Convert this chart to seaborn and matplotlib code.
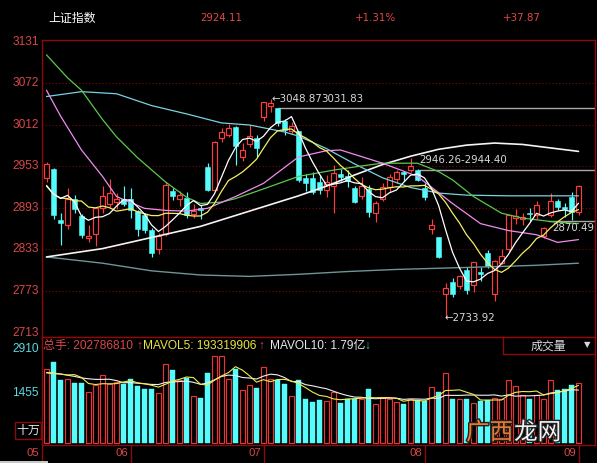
import matplotlib
matplotlib.use("Agg")
import matplotlib.pyplot as plt
import matplotlib.patheffects as pe
from matplotlib.patches import Rectangle
from matplotlib.lines import Line2D
import numpy as np
import seaborn as sns

# ---------------- data ----------------
index_name = "上证指数"
last_close_text = "2924.11"
pct_text = "+1.31%"
chg_text = "+37.87"

opens = [2935, 2948, 2875, 2868, 2906, 2881, 2850, 2855, 2893, 2898,
         2901, 2906, 2906, 2888, 2882, 2861, 2834, 2855, 2917, 2906,
         2907, 2884, 2893, 2951, 2919, 2993, 2998, 3009, 2966, 2985,
         2994, 3024, 3040, 3036, 3018, 3004, 3003, 2935, 2936, 2930,
         2918, 2924, 2941, 2938, 2921, 2910, 2920, 2886, 2905, 2923,
         2934, 2944, 2947, 2947, 2922, 2862, 2851, 2768, 2786, 2780,
         2803, 2782, 2800, 2827, 2768, 2814, 2834, 2878, 2877, 2886,
         2882, 2852, 2883, 2902, 2894, 2909, 2887]
highs = [2959, 2950, 2885, 2922, 2911, 2884, 2868, 2894, 2924, 2934,
         2914, 2924, 2922, 2889, 2886, 2864, 2857, 2930, 2922, 2917,
         2916, 2898, 2897, 2957, 2989, 3008, 3013, 3010, 2986, 3012,
         2997, 3045, 3048.9, 3037, 3021, 3017, 3004, 2941, 2945, 2940,
         2940, 2955, 2948, 2947, 2924, 2937, 2925, 2902, 2928, 2941,
         2947, 2946, 2964, 2948, 2928, 2877, 2851, 2785, 2792, 2796,
         2807, 2815, 2807, 2832, 2818, 2833, 2883, 2891, 2886, 2893,
         2902, 2865, 2914, 2905, 2900, 2915, 2926]
lows = [2930, 2876, 2839, 2862, 2886, 2849, 2843, 2838, 2886, 2894,
        2891, 2896, 2878, 2852, 2857, 2822, 2826, 2852, 2904, 2896,
        2878, 2878, 2876, 2917, 2917, 2988, 2995, 2955, 2960, 2980,
        2966, 3018, 3031, 3010, 2998, 2999, 2930, 2917, 2912, 2912,
        2908, 2886, 2931, 2923, 2899, 2905, 2880, 2873, 2902, 2916,
        2928, 2932, 2944, 2932, 2904, 2855, 2820, 2733.9, 2764, 2776,
        2768, 2772, 2787, 2806, 2759, 2812, 2830, 2870, 2868, 2874,
        2876, 2850, 2880, 2889, 2880, 2875, 2883]
closes = [2955.7, 2882.3, 2870.6, 2906.0, 2891.7, 2853.0, 2852.5, 2892.4, 2909.9, 2914.7,
          2905.8, 2898.7, 2890.1, 2862.3, 2861.4, 2827.8, 2852.1, 2925.7, 2909.4, 2910.7,
          2882.0, 2887.6, 2890.2, 2917.8, 2987.1, 3002.0, 3008.2, 2982.1, 2976.3, 2996.8,
          2978.9, 3044.9, 3043.9, 3015.3, 3005.3, 3011.1, 2933.4, 2928.2, 2915.3, 2917.8,
          2930.6, 2942.2, 2937.6, 2931.7, 2901.6, 2924.2, 2887.0, 2899.9, 2923.3, 2937.4,
          2944.5, 2941.0, 2952.3, 2932.5, 2908.8, 2867.8, 2821.5, 2777.6, 2768.7, 2794.6,
          2774.8, 2815.0, 2797.3, 2808.9, 2815.8, 2823.8, 2883.1, 2880.3, 2880.0, 2883.4,
          2897.4, 2863.6, 2902.2, 2893.8, 2890.9, 2886.2, 2924.1]
# volume in units of 十万 (100k shares)
volumes = [2513, 2735, 2119, 2153, 2028, 2028, 1726, 1951, 2287, 2008,
           2062, 2008, 2176, 1927, 1840, 1816, 1692, 2657, 2455, 2142,
           2210, 1581, 1524, 2365, 2926, 2926, 2153, 2513, 1783, 1974,
           1861, 2567, 2176, 2142, 2008, 1581, 2142, 1490, 1390, 1446,
           1413, 1726, 1356, 1502, 1502, 1502, 1840, 1312, 1536, 1502,
           1390, 1334, 1502, 1469, 1424, 1894, 1726, 2365, 1502, 1502,
           1502, 1356, 1424, 1469, 1536, 1502, 2142, 1917, 1614, 1502,
           1614, 1502, 2119, 1783, 1840, 1974, 2028]

ma5 = [2924.2, 2912.8, 2906.2, 2910.7, 2901.3, 2880.7, 2874.8, 2879.1, 2879.9, 2884.5,
       2895.1, 2904.3, 2903.8, 2894.3, 2883.7, 2868.1, 2858.7, 2865.9, 2875.3, 2885.1,
       2896.0, 2903.1, 2896.0, 2897.7, 2912.9, 2936.9, 2961.1, 2979.4, 2991.1, 2993.1,
       2988.5, 2995.8, 3008.2, 3016.0, 3017.7, 3024.1, 3001.8, 2978.7, 2958.7, 2941.2,
       2925.1, 2926.8, 2928.7, 2932.0, 2928.7, 2927.5, 2916.4, 2908.9, 2907.2, 2914.4,
       2918.4, 2929.2, 2939.7, 2941.5, 2935.8, 2920.5, 2896.6, 2861.6, 2828.9, 2806.0,
       2787.4, 2786.1, 2790.1, 2798.1, 2802.4, 2812.2, 2825.8, 2842.4, 2856.6, 2870.1,
       2884.8, 2880.9, 2885.3, 2888.1, 2889.6, 2887.3, 2899.4]
ma10 = [2925.0, 2912.0, 2907.0, 2906.0, 2903.0, 2902.5, 2893.8, 2892.7, 2895.3, 2892.9,
        2887.9, 2889.6, 2891.5, 2887.1, 2884.1, 2881.6, 2881.5, 2884.9, 2884.8, 2884.4,
        2882.1, 2880.9, 2881.0, 2886.5, 2899.0, 2916.5, 2932.1, 2937.7, 2944.4, 2953.0,
        2962.7, 2978.5, 2993.8, 3003.6, 3005.4, 3006.3, 2998.8, 2993.5, 2987.4, 2979.5,
        2974.6, 2964.3, 2953.7, 2945.4, 2935.0, 2926.3, 2921.6, 2918.8, 2919.6, 2921.6,
        2923.0, 2922.8, 2924.3, 2924.4, 2925.1, 2919.5, 2912.9, 2900.7, 2885.2, 2870.9,
        2854.0, 2841.4, 2825.9, 2813.5, 2804.2, 2799.8, 2806.0, 2816.3, 2827.4, 2836.3,
        2848.5, 2853.4, 2863.9, 2872.4, 2879.9, 2886.1, 2890.2]
ma20_idx = [0, 2, 5, 8, 10, 14, 17, 20, 23, 27, 31, 36, 40, 42, 48, 53, 58, 62, 66, 70, 73, 76]
ma20_val = [3062, 3025, 2976, 2938, 2909, 2892, 2889, 2888, 2892, 2909, 2928, 2966, 2975, 2976,
            2957, 2938, 2899, 2870, 2860, 2854, 2843, 2847]
ma30_idx = [0, 3, 5, 8, 10, 13, 17, 20, 22, 25, 27, 31, 36, 41, 45, 48, 53, 56, 58, 61, 65, 68, 72, 76]
ma30_val = [3113, 3080, 3062, 3020, 2995, 2965, 2930, 2908, 2899, 2901, 2906, 2920, 2938, 2947,
            2953, 2957, 2957, 2945, 2933, 2909, 2885, 2878, 2873, 2870]
ma60_idx = [0, 5, 10, 15, 20, 25, 29, 34, 36, 40, 44, 48, 52, 56, 60, 66, 72, 76]
ma60_val = [3053, 3060, 3057, 3040, 3028, 3015, 3012, 3002, 2996, 2978, 2956, 2936, 2922, 2914,
            2911, 2910, 2910, 2910]
ma120_idx = [0, 8, 15, 22, 29, 36, 40, 44, 48, 52, 56, 60, 64, 68, 72, 76]
ma120_val = [2822, 2834, 2850, 2866, 2888, 2910, 2924, 2940, 2955, 2967, 2977, 2983, 2986, 2984,
             2979, 2974]
ma250_idx = [0, 8, 15, 22, 29, 36, 43, 50, 57, 64, 70, 76]
ma250_val = [2822, 2813, 2802, 2796, 2794, 2797, 2801, 2804, 2806, 2808, 2810, 2813]

mavol5 = [2370, 2344, 2330, 2300, 2310, 2213, 2011, 1977, 2004, 2000,
          2007, 2063, 2108, 2036, 2003, 1953, 1890, 1986, 2092, 2152,
          2231, 2209, 1982, 1964, 2121, 2264, 2379, 2577, 2460, 2270,
          2057, 2140, 2072, 2144, 2151, 2095, 2010, 1873, 1722, 1610,
          1576, 1493, 1466, 1489, 1500, 1518, 1540, 1532, 1538, 1538,
          1516, 1415, 1453, 1439, 1424, 1525, 1603, 1776, 1782, 1798,
          1719, 1645, 1457, 1451, 1457, 1457, 1615, 1713, 1742, 1735,
          1758, 1630, 1670, 1704, 1772, 1844, 1949]
mavol10 = [2380, 2360, 2330, 2290, 2250, 2200, 2170, 2150, 2150, 2155,
           2110, 2037, 2043, 2020, 2002, 1980, 1977, 2047, 2064, 2078,
           2092, 2050, 1984, 2028, 2137, 2248, 2294, 2280, 2212, 2196,
           2161, 2260, 2325, 2302, 2211, 2076, 2075, 1973, 1933, 1881,
           1836, 1752, 1670, 1606, 1555, 1547, 1517, 1499, 1514, 1519,
           1517, 1478, 1493, 1489, 1481, 1521, 1509, 1615, 1611, 1611,
           1622, 1624, 1617, 1617, 1628, 1588, 1630, 1585, 1597, 1596,
           1608, 1623, 1692, 1723, 1754, 1801, 1790]

price_ticks = [3131, 3072, 3012, 2953, 2893, 2833, 2773, 2713]
vol_tick_labels = ["2910", "1455"]
month_labels = ["05", "06", "07", "08", "09"]
month_pos = [-0.7, 12, 31, 54, 76]
total_hands = "202786810"
mavol5_text = "193319906"
mavol10_text = "1.79亿"

# ---------------- style ----------------
W, H = 597, 463
sns.set_theme(style="dark", rc={"axes.facecolor": "black", "figure.facecolor": "black",
                                "axes.grid": False, "savefig.facecolor": "black"})
plt.rcParams['font.family'] = ['Liberation Sans', 'Noto Sans CJK SC', 'DejaVu Sans']

RED = '#FF3C3C'
CYAN = '#54FCFC'
BORDER = '#8C0A0A'
LBL = '#D84848'
GRIDC = '#7A0808'
ANN = '#D8D8D8'

fig = plt.figure(figsize=(W / 100, H / 100), dpi=100)


def fx(x):
    return x / W


def fy(y):
    return 1 - y / H


ax = fig.add_axes([fx(42), fy(337), fx(595) - fx(42), fy(40) - fy(337)])
vax = fig.add_axes([fx(42), fy(445), fx(595) - fx(42), fy(337) - fy(445)])
for a in (ax, vax):
    a.set_facecolor('black')
    for s in a.spines.values():
        s.set_color(BORDER)
        s.set_linewidth(1.0)

n = len(closes)
xs = np.arange(n)

# grid
for p in price_ticks[1:-1]:
    ax.axhline(p, color=GRIDC, lw=0.8, ls=(0, (1, 2)), zorder=1)

# candles
lw = 0.85
for i in range(n):
    o, h, l, c = opens[i], highs[i], lows[i], closes[i]
    if c >= o:
        ax.vlines(i, c, h, color=RED, lw=lw, zorder=2)
        ax.vlines(i, l, o, color=RED, lw=lw, zorder=2)
        ax.bar(i, max(c - o, 0.8), bottom=o, width=0.68, facecolor='black',
               edgecolor=RED, linewidth=lw, zorder=2.5)
    else:
        ax.vlines(i, l, h, color=CYAN, lw=lw, zorder=2)
        ax.bar(i, max(o - c, 0.8), bottom=c, width=0.68, facecolor=CYAN,
               edgecolor=CYAN, linewidth=0.4, zorder=2.5)

# moving averages
sns.lineplot(x=ma250_idx, y=ma250_val, ax=ax, color='#6E9494', linewidth=1.0, zorder=3, legend=False)
sns.lineplot(x=ma120_idx, y=ma120_val, ax=ax, color='#F4F4F4', linewidth=1.2, zorder=3, legend=False)
sns.lineplot(x=ma60_idx, y=ma60_val, ax=ax, color='#78D2E0', linewidth=0.9, zorder=3, legend=False)
sns.lineplot(x=ma30_idx, y=ma30_val, ax=ax, color='#5CC84C', linewidth=0.9, zorder=3, legend=False)
sns.lineplot(x=ma20_idx, y=ma20_val, ax=ax, color='#F08CF0', linewidth=0.9, zorder=3, legend=False)
sns.lineplot(x=xs, y=ma10, ax=ax, color='#F4F060', linewidth=0.9, zorder=3, legend=False)
sns.lineplot(x=xs, y=ma5, ax=ax, color='#FFFFFF', linewidth=0.9, zorder=3.2, legend=False)

ax.set_xlim((42 - 46.5) / 7, (595 - 46.5) / 7)
ax.set_ylim(3012 - 212 * 1.44, 3012 + 85 * 1.44)
ax.set_xticks([])
ax.set_yticks([])
ax.set_xlabel('')
ax.set_ylabel('')

# marker lines and labels
ax.hlines(3037, 33, 79, color='#A8A8A8', lw=1.0, zorder=2)
ax.hlines(2947, 53.2, 79, color='#A8A8A8', lw=1.0, zorder=2)
ax.hlines(2874, 71.6, 79, color='#A8A8A8', lw=1.0, zorder=2)
ax.text(32.2, 3049, "←3048.87", color=ANN, fontsize=7.4, family=['DejaVu Sans'],
        ha='left', va='center', zorder=5)
ax.text(39.3, 3049, "3031.83", color=ANN, fontsize=7.4, family=['DejaVu Sans'],
        ha='left', va='center', zorder=5)
ax.text(53.2, 2961, "2946.26-2944.40", color=ANN, fontsize=7.4, family=['DejaVu Sans'],
        ha='left', va='center', zorder=5)
ax.text(72.3, 2863, "2870.49", color=ANN, fontsize=7.4, family=['DejaVu Sans'],
        ha='left', va='center', zorder=5)
ax.text(56.9, 2734, "←2733.92", color=ANN, fontsize=7.4, family=['DejaVu Sans'],
        ha='left', va='center', zorder=5)

# price labels
for p in price_ticks:
    ax.text(-0.005, p, str(p), transform=ax.get_yaxis_transform(), ha='right', va='center',
            color=LBL, fontsize=8.6, clip_on=False)

# ---------------- volume panel ----------------
for i in range(n):
    if closes[i] >= opens[i]:
        vax.bar(i, volumes[i], width=0.66, facecolor='black', edgecolor='#E83434',
                linewidth=0.85, zorder=2)
    else:
        vax.bar(i, volumes[i], width=0.66, facecolor=CYAN, edgecolor=CYAN,
                linewidth=0.3, zorder=2)
sns.lineplot(x=xs, y=mavol10, ax=vax, color='#F0F0F0', linewidth=0.8, zorder=3, legend=False)
sns.lineplot(x=xs, y=mavol5, ax=vax, color='#F0EC50', linewidth=0.8, zorder=3.1, legend=False)
vax.set_xlim((42 - 46.5) / 7, (595 - 46.5) / 7)
vax.set_ylim(-(445 - 443.3) / 0.02973, (443.3 - 337) / 0.02973)
vax.set_xticks([])
vax.set_yticks([])
vax.set_xlabel('')
vax.set_ylabel('')

# month ticks & labels
for pos, lab in zip(month_pos, month_labels):
    vax.add_line(Line2D([pos, pos], [0, -0.17], transform=vax.get_xaxis_transform(),
                        color=BORDER, lw=1.0, clip_on=False))
    vax.text(pos - 1.2, -0.072, lab, transform=vax.get_xaxis_transform(), ha='center',
             va='center', color=LBL, fontsize=8.2, clip_on=False)

# ---------------- texts in figure pixels ----------------
def ftext(x, y, s, **kw):
    fig.text(fx(x), fy(y), s, **kw)


ftext(48, 18, index_name, color='white', fontsize=8.6, va='center', ha='left',
      family=['Noto Sans CJK SC', 'DejaVu Sans'])
ftext(200, 18, last_close_text, color='#E04848', fontsize=7.4, va='center', ha='left',
      family=['DejaVu Sans'])
ftext(355, 18, pct_text, color='#E04848', fontsize=7.4, va='center', ha='left',
      family=['DejaVu Sans'])
ftext(503, 18, chg_text, color='#E04848', fontsize=7.4, va='center', ha='left',
      family=['DejaVu Sans'])

# volume header
ftext(43, 346, "总手: " + total_hands, color='#D84848', fontsize=8.6, va='center', ha='left')
ftext(136, 346, "↑", color='#D84848', fontsize=8.6, va='center', ha='left')
ftext(143, 346, "MAVOL5: " + mavol5_text, color='#E8E440', fontsize=8.6, va='center', ha='left')
ftext(258, 346, "↑", color='#D84848', fontsize=8.6, va='center', ha='left')
ftext(270, 346, "MAVOL10: " + mavol10_text, color='#E8E8E8', fontsize=8.6, va='center', ha='left')
ftext(364, 346, "↓", color='#3CC8A0', fontsize=8.6, va='center', ha='left')

# 成交量 box
fig.add_artist(Line2D([fx(503), fx(503)], [fy(337), fy(354)], color=BORDER, lw=1.0))
fig.add_artist(Line2D([fx(503), fx(595)], [fy(354), fy(354)], color=BORDER, lw=1.0))
ftext(548, 346, "成交量", color='#D8D8D8', fontsize=8.6, va='center', ha='center',
      family=['Noto Sans CJK SC', 'DejaVu Sans'])
ftext(587, 345, "▼", color='#D8D8D8', fontsize=6, va='center', ha='center',
      family=['DejaVu Sans'])

# volume axis labels
ftext(39, 349, vol_tick_labels[0], color='#5CD8E0', fontsize=8.6, va='center', ha='right')
ftext(39, 393, vol_tick_labels[1], color='#5CD8E0', fontsize=8.6, va='center', ha='right')
fig.add_artist(Rectangle((fx(15), fy(439)), fx(41) - fx(15), fy(422) - fy(439),
                         facecolor='black', edgecolor=BORDER, lw=1.0))
ftext(28, 430.5, "十万", color='#E8E8E8', fontsize=8.6, va='center', ha='center',
      family=['Noto Sans CJK SC', 'DejaVu Sans'])

# bottom-left scroll bar
fig.add_artist(Rectangle((0, 0), fx(48), 2.5 / H, facecolor='#C8C8C8', edgecolor='none'))

# watermark
wm_fx = [pe.withStroke(linewidth=2.0, foreground='#202020')]
ftext(466, 433, "广西", color='#EE7A30', fontsize=17, va='center', ha='left',
      family=['Noto Sans CJK SC', 'DejaVu Sans'], path_effects=wm_fx)
ftext(514, 433, "龙网", color='#F4F4F4', fontsize=17, va='center', ha='left',
      family=['Noto Sans CJK SC', 'DejaVu Sans'], path_effects=wm_fx)

fig.savefig("out.png", dpi=100, facecolor='black')
